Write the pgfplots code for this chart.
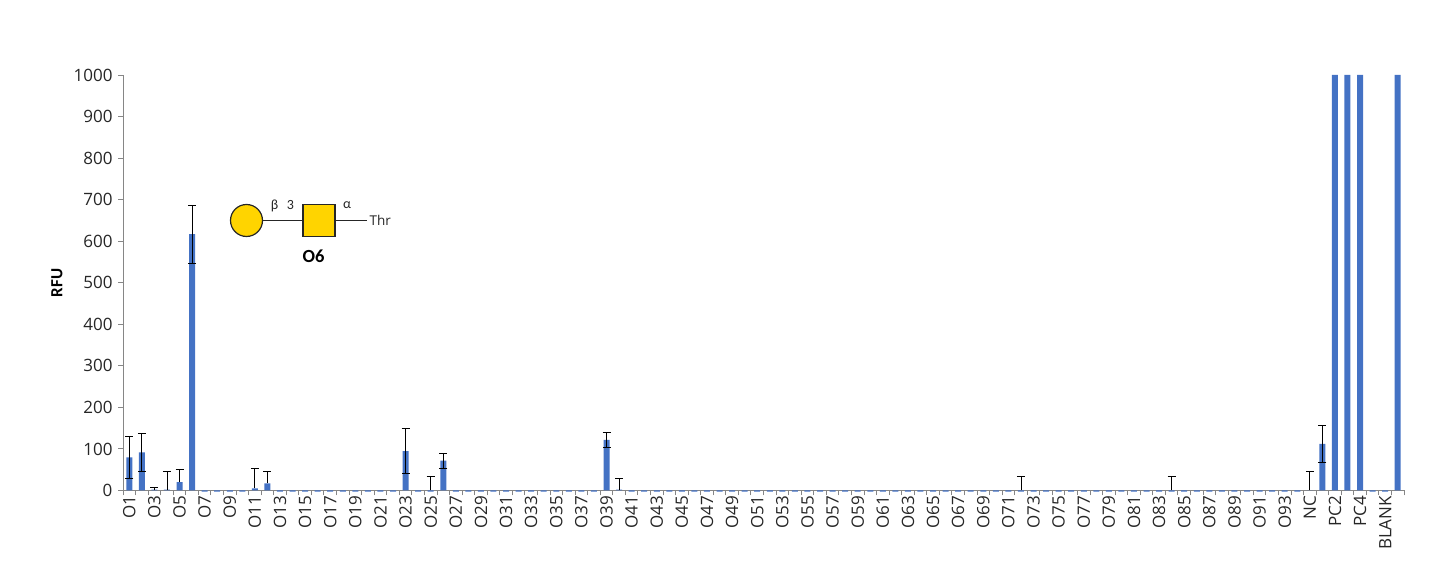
\documentclass[border=0pt]{standalone}
\usepackage{pgfplots}
\usepackage{pgfplotstable}
\usepackage{fontspec}
\setmainfont{Carlito}
\newfontfamily\osans{Open Sans}
\pgfplotsset{compat=1.18}
\definecolor{barblue}{HTML}{4472C4}
\definecolor{axgray}{HTML}{868686}
\definecolor{glyy}{HTML}{FFD400}
\pgfplotstableread{
x y
1 80
2 92
3 2
4 2
5 20
6 617
7 -3
8 -3
9 -3
10 -3
11 5
12 17
13 -3
14 -3
15 -3
16 -3
17 -3
18 -3
19 -3
20 -3
21 -3
22 -3
23 95
24 -3
25 -3
26 72
27 -3
28 -3
29 -3
30 -3
31 -3
32 -3
33 -3
34 -3
35 -3
36 -3
37 -3
38 -3
39 122
40 2
41 -3
42 -3
43 -3
44 -3
45 -3
46 -3
47 -3
48 -3
49 -3
50 -3
51 -3
52 -3
53 -3
54 -3
55 -3
56 -3
57 -3
58 -3
59 -3
60 -3
61 -3
62 -3
63 -3
64 -3
65 -3
66 -3
67 -3
68 -3
69 -3
70 -3
71 -3
72 -3
73 -3
74 -3
75 -3
76 -3
77 -3
78 -3
79 -3
80 -3
81 -3
82 -3
83 -3
84 -3
85 -3
86 -3
87 -3
88 -3
89 -3
90 -3
91 -3
92 -3
93 -3
94 -3
95 0
96 112
97 1000
98 1000
99 1000
100 -3
101 -3
102 1000
}\bars
\pgfplotstableread{
x y e
1 80 50
2 92 45
6 617 70
23 95 54
26 72 18
39 122 18
96 112 45
}\errboth
\pgfplotstableread{
x y e
3 2 5
4 2 45
5 20 30
11 5 49
12 17 28
25 0 34
40 2 27
72 0 33
84 0 33
95 0 47
}\errplus
\begin{document}
\begin{tikzpicture}[x=1pt,y=1pt]
\path[use as bounding box] (0,0) rectangle (1446,585);
\begin{axis}[
  at={(123pt,94.5pt)}, anchor=south west,
  scale only axis, width=1281pt, height=415.5pt,
  xmin=0.5, xmax=102.5, ymin=0, ymax=1000,
  clip=false,
  axis x line*=bottom, axis y line*=left,
  axis line style={draw=axgray, line width=0.9pt, -},
  ytick={0,100,...,1000},
  xtick={1,3,...,101},
  xticklabels={O1,O3,O5,O7,O9,O11,O13,O15,O17,O19,O21,O23,O25,O27,O29,O31,O33,O35,O37,O39,O41,O43,O45,O47,O49,O51,O53,O55,O57,O59,O61,O63,O65,O67,O69,O71,O73,O75,O77,O79,O81,O83,O85,O87,O89,O91,O93,NC,PC2,PC4,BLANK},
  minor xtick={0.5,1.5,...,102.5},
  major tick length=0pt,
  minor tick length=5pt,
  tick align=outside,
  tick style={draw=axgray, line width=0.9pt},
  x tick label style={rotate=90, anchor=east, font=\osans\fontsize{17}{17}\selectfont, xshift=-2pt, text=black!85},
  y tick label style={font=\osans\fontsize{17}{17}\selectfont, xshift=-7pt, text=black!85},
  /pgf/number format/assume math mode=true,
  /pgf/number format/1000 sep={},
  extra y ticks={0,100,...,1000},
  extra y tick labels={},
  extra y tick style={major tick length=5pt},
]
\addplot[ybar, bar shift=0pt, bar width=6pt, fill=barblue, draw=none] table[x=x,y=y] {\bars};
\addplot[draw=none, mark=none, forget plot, error bars/.cd, y dir=both, y explicit,
  error bar style={draw=black, line width=0.9pt}, error mark options={rotate=90, mark size=4pt, line width=0.9pt, draw=black}]
  table[x=x,y=y,y error=e] {\errboth};
\addplot[draw=none, mark=none, forget plot, error bars/.cd, y dir=plus, y explicit,
  error bar style={draw=black, line width=0.9pt}, error mark options={rotate=90, mark size=4pt, line width=0.9pt, draw=black}]
  table[x=x,y=y,y error=e] {\errplus};
\end{axis}
\node[rotate=90, font=\bfseries\fontsize{17}{17}\selectfont] at (57,302) {RFU};
% glycan
\draw[black!85, line width=1.2pt] (246.5,364.5) -- (303,364.5);
\draw[black!85, line width=1.2pt] (335,364.5) -- (367,364.5);
\draw[black!85, line width=1.2pt, fill=glyy] (246.5,364.5) circle (16);
\draw[black!85, line width=1.2pt, fill=glyy] (303,348.5) rectangle (335,380.5);
\node[font=\fontsize{14}{14}\selectfont, text=black!85] at (274.5,379.5) {β};
\node[font=\fontsize{14}{14}\selectfont, text=black!85] at (290.5,379.5) {3};
\node[font=\fontsize{14}{14}\selectfont, text=black!85] at (347,379.5) {α};
\node[font=\osans\fontsize{13.5}{13.5}\selectfont, text=black!85, anchor=west, inner sep=0pt] at (369.5,364.5) {Thr};
\node[font=\bfseries\fontsize{18.5}{18.5}\selectfont] at (313.5,329) {O6};
\end{tikzpicture}
\end{document}
